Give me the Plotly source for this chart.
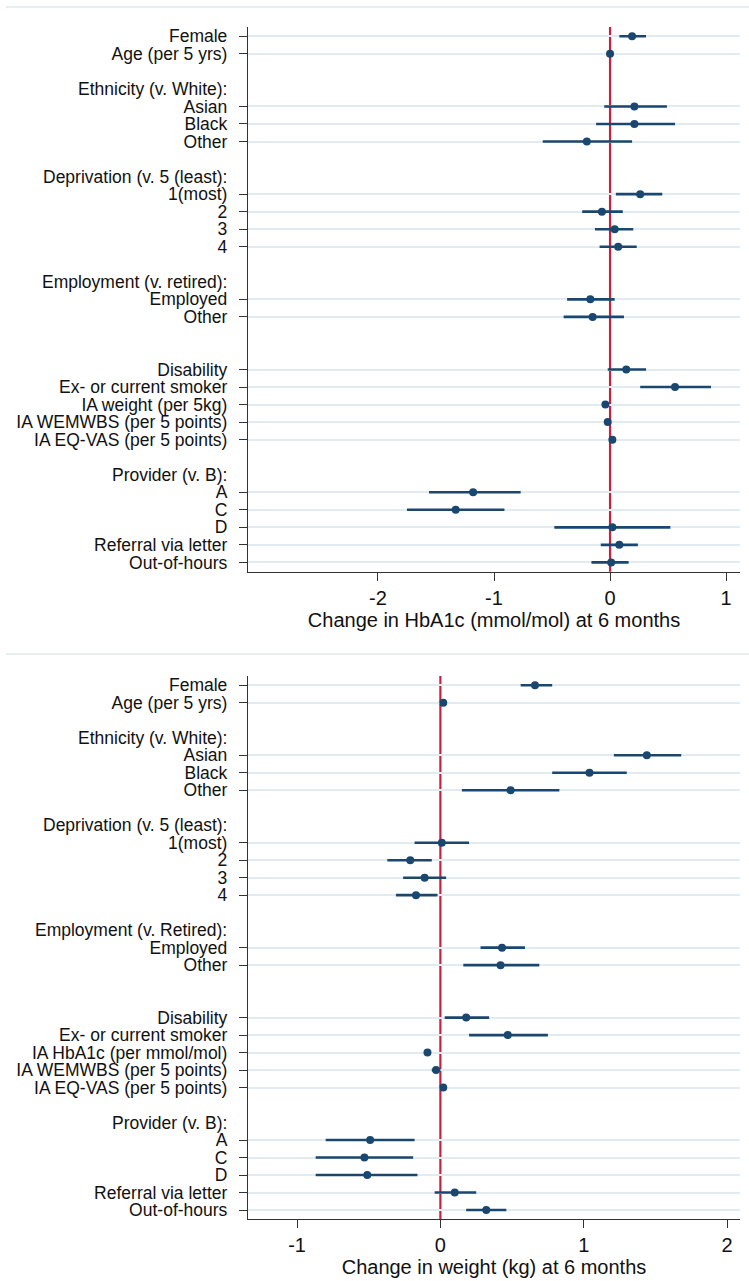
import plotly.graph_objects as go

# ---------------- data ----------------
groups_top = [
    ("", ["Female", "Age (per 5 yrs)"]),
    ("Ethnicity (v. White):", ["Asian", "Black", "Other"]),
    ("Deprivation (v. 5 (least):", ["1(most)", "2", "3", "4"]),
    ("Employment (v. retired):", ["Employed", "Other"]),
    ("", ["Disability", "Ex- or current smoker", "IA weight (per 5kg)",
          "IA WEMWBS (per 5 points)", "IA EQ-VAS (per 5 points)"]),
    ("Provider (v. B):", ["A", "C", "D", "Referral via letter", "Out-of-hours"]),
]
groups_bottom = [
    ("", ["Female", "Age (per 5 yrs)"]),
    ("Ethnicity (v. White):", ["Asian", "Black", "Other"]),
    ("Deprivation (v. 5 (least):", ["1(most)", "2", "3", "4"]),
    ("Employment (v. Retired):", ["Employed", "Other"]),
    ("", ["Disability", "Ex- or current smoker", "IA HbA1c (per mmol/mol)",
          "IA WEMWBS (per 5 points)", "IA EQ-VAS (per 5 points)"]),
    ("Provider (v. B):", ["A", "C", "D", "Referral via letter", "Out-of-hours"]),
]

hba1c_est = [0.19, 0.00, 0.21, 0.21, -0.20, 0.26, -0.07, 0.04, 0.07, -0.17, -0.15,
             0.14, 0.56, -0.04, -0.02, 0.02, -1.18, -1.33, 0.02, 0.08, 0.01]
hba1c_lo = [0.08, -0.01, -0.05, -0.12, -0.58, 0.05, -0.24, -0.13, -0.09, -0.37, -0.40,
            -0.02, 0.26, -0.06, -0.045, 0.00, -1.56, -1.75, -0.48, -0.08, -0.16]
hba1c_hi = [0.31, 0.01, 0.49, 0.56, 0.19, 0.45, 0.11, 0.20, 0.23, 0.04, 0.12,
            0.31, 0.87, -0.02, 0.005, 0.04, -0.77, -0.91, 0.52, 0.24, 0.16]

weight_est = [0.66, 0.02, 1.44, 1.04, 0.49, 0.01, -0.21, -0.11, -0.17, 0.43, 0.42,
              0.18, 0.47, -0.09, -0.03, 0.02, -0.49, -0.53, -0.51, 0.10, 0.32]
weight_lo = [0.56, 0.00, 1.21, 0.78, 0.15, -0.18, -0.37, -0.26, -0.31, 0.28, 0.16,
             0.03, 0.20, -0.11, -0.06, 0.00, -0.80, -0.87, -0.87, -0.04, 0.18]
weight_hi = [0.78, 0.04, 1.68, 1.30, 0.83, 0.20, -0.06, 0.04, -0.02, 0.59, 0.69,
             0.34, 0.75, -0.07, 0.00, 0.04, -0.18, -0.19, -0.16, 0.25, 0.46]

top_ticks = [-2, -1, 0, 1]
top_ticktext = ["-2", "-1", "0", "1"]
bottom_ticks = [-1, 0, 1, 2]
bottom_ticktext = ["-1", "0", "1", "2"]

top_title = "Change in HbA1c (mmol/mol) at 6 months"
bottom_title = "Change in weight (kg) at 6 months"

# ---------------- styling ----------------
W, H = 749, 1281
FONT = "Liberation Sans, Arial, sans-serif"
NAVY = "#1a476f"
RED = "#c8213f"
GRID = "#e2ecf0"
AXIS = "#333333"
TXT = "#111111"

X0, X1 = 248 / W, 740 / W
top_dom = [1 - 571.7 / H, 1 - 27 / H]
bot_dom = [1 - 1219.3 / H, 1 - 676 / H]


def layout_rows(groups):
    rows, labels, headers = [], [], []
    r = 0
    for gi, (hdr, items) in enumerate(groups):
        if gi > 0:
            r += 1  # gap row
            headers.append((r, hdr))
            r += 1
        for it in items:
            rows.append(r)
            labels.append(it)
            r += 1
    return rows, labels, headers


fig = go.Figure()
annotations = []
shapes = []

panels = [
    (groups_top, hba1c_est, hba1c_lo, hba1c_hi, "x", "y", top_dom,
     top_ticks, top_ticktext, top_title, [-3.12, 1.12]),
    (groups_bottom, weight_est, weight_lo, weight_hi, "x2", "y2", bot_dom,
     bottom_ticks, bottom_ticktext, bottom_title, [-1.342, 2.09]),
]

for i, (groups, est, lo, hi, xa, ya, dom, tv, tt, title, xr) in enumerate(panels):
    rows, labels, headers = layout_rows(groups)
    fig.add_trace(go.Scatter(
        x=est, y=rows, xaxis=xa, yaxis=ya, mode="markers",
        marker=dict(color=NAVY, size=8, symbol="circle"),
        error_x=dict(type="data", symmetric=False,
                     array=[h - e for h, e in zip(hi, est)],
                     arrayminus=[e - l for e, l in zip(est, lo)],
                     color=NAVY, thickness=2.6, width=0),
        showlegend=False, hoverinfo="skip", cliponaxis=False,
    ))
    sfx = "" if i == 0 else "2"
    fig.update_layout(**{
        "xaxis" + sfx: dict(
            domain=[X0, X1], anchor=ya, range=xr, automargin=False,
            tickmode="array", tickvals=tv, ticktext=tt,
            ticks="outside", ticklen=8, tickwidth=1.3, tickcolor=AXIS,
            showline=True, linecolor=AXIS, linewidth=1.3,
            showgrid=False, zeroline=False,
            tickfont=dict(family=FONT, size=20, color=TXT),
            title=dict(text=title, font=dict(family=FONT, size=20, color=TXT),
                       standoff=0),
        ),
        "yaxis" + sfx: dict(
            domain=dom, anchor=xa, range=[30.53, -0.53], automargin=False,
            tickmode="array", tickvals=rows, ticktext=labels,
            ticks="outside", ticklen=8, tickwidth=1.3, tickcolor=AXIS,
            ticklabelstandoff=8,
            showline=True, linecolor=AXIS, linewidth=1.3,
            showgrid=True, gridcolor=GRID, gridwidth=2,
            zeroline=False,
            tickfont=dict(family=FONT, size=17.5, color=TXT),
        ),
    })
    for (r, hdr) in headers:
        if hdr:
            annotations.append(dict(
                x=X0, xref="paper", y=r, yref=ya, text=hdr, showarrow=False,
                xanchor="right", yanchor="middle", xshift=-19,
                font=dict(family=FONT, size=17.5, color=TXT),
            ))
    shapes.append(dict(
        type="line", xref=xa, yref="paper", x0=0, x1=0, y0=dom[0], y1=dom[1],
        line=dict(color=RED, width=2.2), layer="below",
    ))

# faint panel border lines at top of each panel
for yp in [7 / H, 654 / H]:
    shapes.append(dict(type="line", xref="paper", yref="paper",
                       x0=6 / W, x1=1, y0=1 - yp, y1=1 - yp,
                       line=dict(color="#e9efef", width=2)))

fig.update_layout(
    width=W, height=H,
    margin=dict(l=0, r=0, t=0, b=0),
    paper_bgcolor="white", plot_bgcolor="white",
    annotations=annotations, shapes=shapes,
    font=dict(family=FONT, color=TXT),
)

fig.write_html(
    "out.html",
    config={"displayModeBar": False},
    post_script="document.body.style.margin='0';document.body.style.overflow='hidden';",
)
